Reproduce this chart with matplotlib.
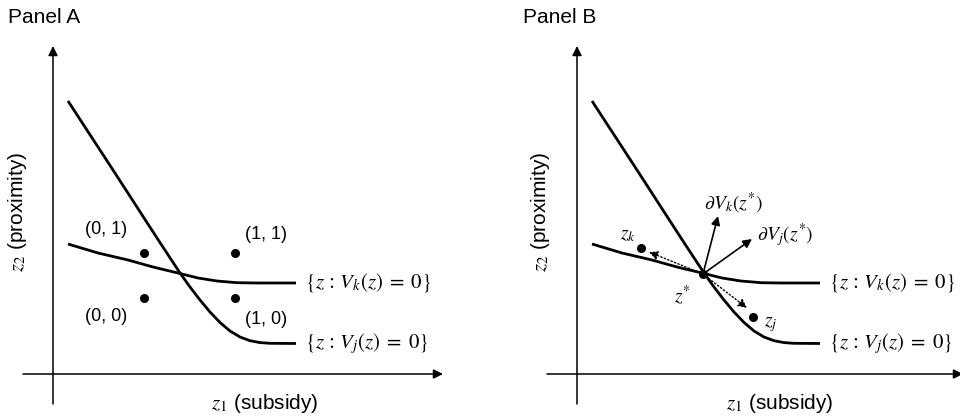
import matplotlib.pyplot as plt

plt.rcParams['font.family'] = ['Liberation Sans', 'DejaVu Sans']
plt.rcParams['mathtext.fontset'] = 'stix'

# boundary curves (same shape in both panels)
vj_z1 = [0.15, 0.60, 1.04, 1.27, 1.37, 1.47, 1.57, 1.67, 1.77, 1.87, 1.97, 2.07, 2.17, 2.43]
vj_z2 = [2.73, 2.04, 1.36, 1.01, 0.87, 0.74, 0.62, 0.515, 0.43, 0.37, 0.333, 0.314, 0.307, 0.305]
vk_z1 = [0.15, 0.45, 0.75, 1.00, 1.27, 1.45, 1.64, 1.84, 2.05, 2.43]
vk_z2 = [1.30, 1.21, 1.14, 1.07, 1.005, 0.96, 0.93, 0.913, 0.91, 0.91]

# panel A: the four corner points
a_z1 = [0.91, 1.82, 0.91, 1.82]
a_z2 = [1.21, 1.21, 0.76, 0.76]
a_labels = ['(0, 1)', '(1, 1)', '(0, 0)', '(1, 0)']

# panel B: kink point, nearby points, gradients
zstar = (1.26, 1.00)
zk = (0.64, 1.26)
zj = (1.76, 0.57)
grad_k = (1.41, 1.58)
grad_j = (1.75, 1.35)
dir_k = (0.72, 1.22)
dir_j = (1.70, 0.66)

fig = plt.figure(figsize=(9.6, 4.19), dpi=100)
axA = fig.add_axes([0, 0, 0.5, 1])
axB = fig.add_axes([0.5, 0, 0.5, 1])
axA.set_xlim(-0.53, 4.27)
axB.set_xlim(-0.97, 3.83)

def arrow(ax, start, end, **kw):
    props = dict(arrowstyle='-|>', color='k', lw=1.1, mutation_scale=14,
                 shrinkA=0, shrinkB=0)
    props.update(kw)
    ax.annotate('', xy=end, xytext=start, arrowprops=props, annotation_clip=False)

def base(ax, xtip, xlab_x):
    ax.set_ylim(-0.45, 3.74)
    ax.axis('off')
    arrow(ax, (-0.30, 0), (xtip, 0))
    arrow(ax, (0, -0.30), (0, 3.28))
    ax.plot(vj_z1, vj_z2, color='k', lw=2.0, solid_capstyle='butt')
    ax.plot(vk_z1, vk_z2, color='k', lw=2.0, solid_capstyle='butt')
    ax.text(2.52, 0.91, r'$\{z\,:\,V_k(z)\;=\;0\}$', fontsize=15, ha='left', va='center')
    ax.text(2.52, 0.30, r'$\{z\,:\,V_j(z)\;=\;0\}$', fontsize=15, ha='left', va='center')
    ax.text(xlab_x, -0.29, r'$z_1$ (subsidy)', fontsize=15, ha='center', va='center')
    ax.text(-0.36, 1.62, r'$z_2$ (proximity)', fontsize=15, ha='center', va='center',
            rotation=90)

base(axA, 3.90, 2.12)
base(axB, 3.86, 2.03)

# Panel A
axA.plot(a_z1, a_z2, 'o', color='k', ms=5.5)
lab_pos = [(0.53, 1.45), (2.13, 1.40), (0.53, 0.58), (2.13, 0.55)]
for (x, y), s in zip(lab_pos, a_labels):
    axA.text(x, y, s, fontsize=13, ha='center', va='center')

# Panel B
axB.plot([zstar[0], zk[0], zj[0]], [zstar[1], zk[1], zj[1]], 'o', color='k', ms=5.5)
arrow(axB, zstar, grad_k, lw=1.2, mutation_scale=13)
arrow(axB, zstar, grad_j, lw=1.2, mutation_scale=13)
arrow(axB, zstar, dir_k, lw=1.0, ls=':', mutation_scale=13)
arrow(axB, zstar, dir_j, lw=1.0, ls=':', mutation_scale=13)
axB.text(1.56, 1.71, r'$\partial V_k(z^{*})$', fontsize=14, ha='center', va='center')
axB.text(2.08, 1.39, r'$\partial V_j(z^{*})$', fontsize=14, ha='center', va='center')
axB.text(0.51, 1.39, r'$z_k$', fontsize=14, ha='center', va='center')
axB.text(1.05, 0.79, r'$z^{*}$', fontsize=14, ha='center', va='center')
axB.text(1.94, 0.49, r'$z_j$', fontsize=14, ha='center', va='center')

fig.text(8 / 960, 1 - 17.5 / 419, 'Panel A', fontsize=15, ha='left', va='center')
fig.text(523 / 960, 1 - 17.5 / 419, 'Panel B', fontsize=15, ha='left', va='center')

fig.savefig('out.png', dpi=100)
